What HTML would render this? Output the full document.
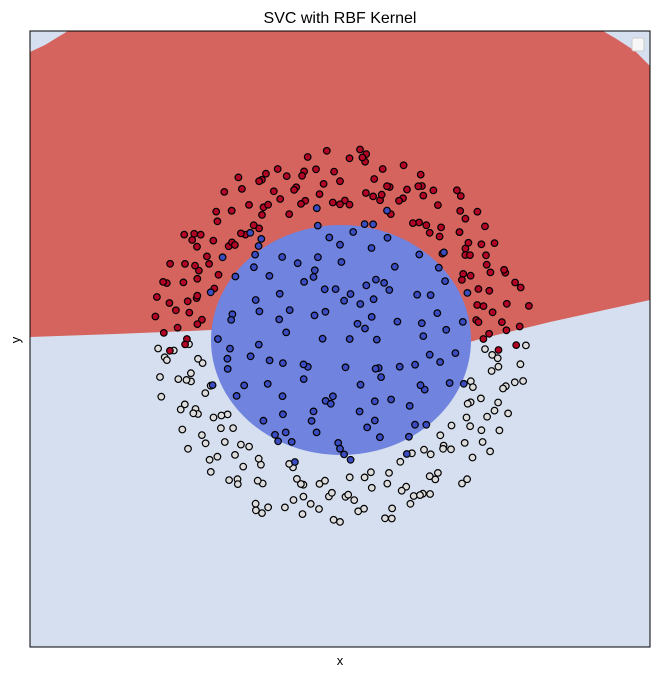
<!DOCTYPE html>
<html><head><meta charset="utf-8"><style>
html,body{margin:0;padding:0;background:#fff;}
svg{display:block;font-family:"Liberation Sans",sans-serif;}
</style></head><body>
<svg id="chart" width="659" height="677" viewBox="0 0 659 677" xmlns="http://www.w3.org/2000/svg">
<text x="340" y="23" text-anchor="middle" font-size="16" fill="#000">SVC with RBF Kernel</text>
<g>
<rect x="30" y="31" width="620" height="616" fill="#d5dff0"/>
<path d="M30,52 L45,45 L58,37 L68,31 L603,31 L615,38 L635,51 L650,66 L650,300 L600,311 L550,322 L480,339 L470,342 L210,330 L190,331 L115,334 L30,337 Z" fill="#d5645e"/>
<ellipse cx="341" cy="340" rx="130" ry="115" fill="#7083de"/>
</g>
<g id="points"></g>
<rect x="30" y="31" width="620" height="616" fill="none" stroke="#000" stroke-width="1"/>
<rect x="632" y="38" width="12" height="13" rx="2" fill="#f7f7f7" stroke="#ccc"/>
<text x="340" y="665" text-anchor="middle" font-size="13">x</text>
<text x="20" y="340" text-anchor="middle" font-size="13" transform="rotate(-90 20 340)">y</text>
</svg>
<script>
const redAngle=[-4,0,4,8,12,16,20,24,28,32,36,40,44,48,52,56,60,64,68,72,76,80,84,88,92,96,100,104,108,112,116,120,124,128,132,136,140,144,148,152,156,160,164,168,172,176,180,184,-2,2,6,10,14,18,22,26,30,34,38,42,46,50,54,58,62,66,70,74,78,82,86,90,94,98,102,106,110,114,118,122,126,130,134,138,142,146,150,154,158,162,166,170,174,178,182,10,18,26,34,42,50,58,66,74,82,90,98,106,114,122,130,138,146,154,162,170,3,13,23,33,43,53,63,73,83,93,103,113,123,133,143,153,163,173,7,27,47,67,87,107,127,147,167,37,77,117,157];
const redRadius=[.82,.74,.93,.71,.88,.97,.76,.85,.72,.94,.80,.69,.90,.78,.98,.73,.86,.95,.70,.83,.91,.77,.99,.72,.87,.81,.96,.74,.89,.70,.92,.79,.84,.97,.73,.88,.75,.93,.81,.71,.96,.86,.77,.90,.72,.84,.79,.88,.91,.77,.84,.99,.73,.81,.92,.70,.87,.78,.95,.83,.74,.97,.86,.71,.90,.80,.96,.75,.85,.93,.70,.82,.98,.76,.89,.73,.94,.84,.79,.99,.71,.87,.92,.75,.83,.97,.78,.89,.70,.94,.81,.86,.74,.91,.80,.80,.95,.75,.88,.83,.72,.91,.85,.78,.97,.70,.89,.82,.94,.76,.87,.73,.92,.81,.96,.79,.86,.76,.92,.80,.97,.74,.89,.83,.95,.71,.87,.79,.93,.75,.90,.84,.77,.96,.72,.85,.91,.78,.94,.81,.74,.88,.97,.83,.76,.92,.80];
const whiteAngle=[182,186,190,194,198,202,206,210,214,218,222,226,230,234,238,242,246,250,254,258,262,266,270,274,278,282,286,290,294,298,302,306,310,314,318,322,326,330,334,338,342,346,350,354,358,184,188,192,196,200,204,208,212,216,220,224,228,232,236,240,244,248,252,256,260,264,268,272,276,280,284,288,292,296,300,304,308,312,316,320,324,328,332,336,340,344,348,352,356,195,215,235,255,275,295,315,335,183,193,203,213,223,233,243,253,263,273,283,293,303,313,323,333,343,353,187,207,227,247,267,287,307,327,347,217,257,297,337];
const whiteRadius=[.78,.91,.72,.86,.97,.75,.83,.94,.70,.88,.80,.96,.73,.90,.77,.85,.99,.71,.87,.93,.76,.82,.95,.72,.89,.79,.97,.74,.84,.91,.70,.86,.98,.77,.92,.73,.81,.95,.75,.88,.71,.93,.83,.79,.96,.86,.74,.95,.80,.71,.90,.83,.77,.97,.72,.88,.81,.93,.75,.85,.99,.70,.92,.78,.87,.74,.94,.82,.90,.73,.96,.79,.85,.71,.93,.88,.76,.98,.72,.84,.91,.77,.86,.95,.73,.89,.80,.94,.75,.82,.87,.92,.78,.84,.90,.81,.88,.94,.79,.87,.73,.92,.83,.96,.76,.89,.81,.71,.93,.85,.78,.97,.74,.88,.82,.90,.85,.75,.95,.80,.92,.72,.87,.97,.77,.84,.91,.79,.94];
const blueAngle=[5,17,29,41,53,65,77,89,101,113,125,137,149,161,173,185,197,209,221,233,245,257,269,281,293,305,317,329,341,353,11,35,59,83,107,131,155,179,203,227,251,275,299,323,347,23,47,71,95,119,143,167,191,215,239,263,287,311,335,359,8,52,96,140,184,228,272,316,30,74,118,162,206,250,294,338,15,60,105,150,195,240,285,330,0,45,90,135,180,225,270,315,40,70,100,130,145,20,160,340,200,300,250,2,26,50,78,110,138,170,212,236,262,292,320,350,64,128,190,256,310,36,84,122];
const blueRadius=[.55,.31,.62,.12,.47,.58,.24,.40,.60,.35,.52,.18,.63,.44,.28,.57,.38,.61,.22,.49,.59,.33,.54,.15,.46,.62,.29,.51,.41,.60,.43,.20,.36,.56,.27,.64,.48,.09,.32,.58,.45,.63,.37,.25,.53,.14,.60,.50,.26,.45,.39,.57,.47,.23,.62,.30,.48,.59,.34,.19,.64,.37,.53,.58,.42,.28,.60,.50,.46,.62,.16,.33,.55,.40,.26,.61,.52,.21,.44,.30,.60,.56,.39,.48,.05,.36,.49,.62,.63,.42,.57,.63,.70,.71,.69,.72,.74,.70,.71,.68,.70,.69,.68,.43,.52,.27,.61,.38,.49,.57,.44,.60,.34,.55,.24,.47,.31,.66,.59,.50,.41,.63,.20,.35];
const xMin=-1.6,xMax=1.6,yMin=-1.6,yMax=1.6;
function xPx(v){return 30+(v-xMin)/(xMax-xMin)*620;}
function yPx(v){return 31+(yMax-v)/(yMax-yMin)*616;}
const g=document.getElementById('points');
function draw(ang,rad,fill,name){
  for(let i=0;i<ang.length;i++){
    const a=ang[i]*Math.PI/180;
    const c=document.createElementNS('http://www.w3.org/2000/svg','circle');
    c.setAttribute('cx',xPx(rad[i]*Math.cos(a)).toFixed(1));
    c.setAttribute('cy',yPx(rad[i]*Math.sin(a)).toFixed(1));
    c.setAttribute('r',3.3);
    c.setAttribute('fill',fill);
    c.setAttribute('stroke','#000');
    c.setAttribute('stroke-width',1.2);
    
    
    g.appendChild(c);
  }
}
draw(whiteAngle,whiteRadius,'#dddddd','white-class-point');
draw(redAngle,redRadius,'#b40426','red-class-point');
draw(blueAngle,blueRadius,'#3b4cc0','blue-class-point');
</script>
</body></html>
